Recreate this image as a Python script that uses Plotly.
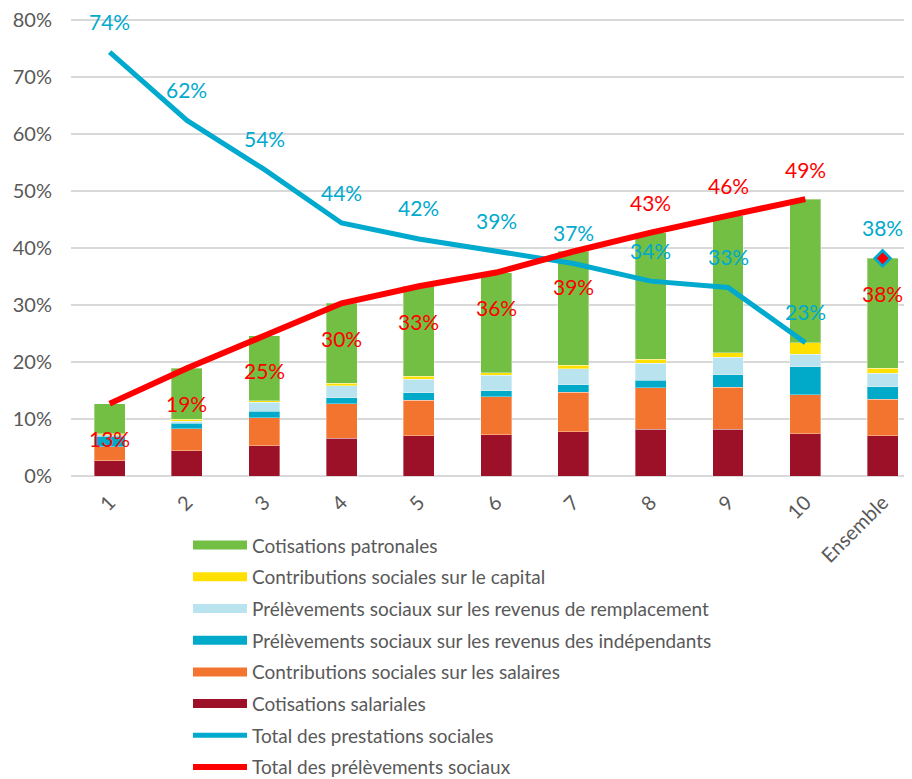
import plotly.graph_objects as go

categories = ["1", "2", "3", "4", "5", "6", "7", "8", "9", "10", "Ensemble"]

cotis_salariales = [2.7, 4.4, 5.3, 6.6, 7.1, 7.2, 7.8, 8.2, 8.2, 7.4, 7.1]
contrib_salaires = [2.4, 3.9, 4.9, 6.1, 6.2, 6.7, 6.9, 7.3, 7.4, 6.9, 6.4]
prelev_independants = [1.9, 1.0, 1.2, 1.0, 1.3, 1.1, 1.3, 1.3, 2.2, 4.9, 2.2]
prelev_remplacement = [0.2, 0.3, 1.5, 2.1, 2.4, 2.7, 2.8, 3.0, 3.0, 2.2, 2.3]
contrib_capital = [0.2, 0.4, 0.3, 0.5, 0.5, 0.4, 0.6, 0.7, 0.8, 2.0, 0.9]
cotis_patronales = [5.3, 8.9, 11.4, 14.0, 15.8, 17.6, 20.0, 22.2, 24.1, 25.2, 19.3]

total_prestations = [74.4, 62.4, 53.8, 44.4, 41.6, 39.4, 37.3, 34.2, 33.1, 23.4, 38.2]
total_prelevements = [12.7, 18.9, 24.6, 30.3, 33.3, 35.7, 39.4, 42.7, 45.7, 48.6, 38.2]

y_ticks = [0, 10, 20, 30, 40, 50, 60, 70, 80]
y_tick_labels = ["0%", "10%", "20%", "30%", "40%", "50%", "60%", "70%", "80%"]

FONT = "Lato"
GREY = "#595959"
C_GREEN = "#72BF44"
C_YELLOW = "#FFE000"
C_LIGHTBLUE = "#B9E3EF"
C_BLUE = "#00AAC8"
C_ORANGE = "#F3742F"
C_DARKRED = "#9C1127"
C_LINE_BLUE = "#00A9CE"
C_LINE_RED = "#FF0000"

bar_series = [
    ("Cotisations salariales", cotis_salariales, C_DARKRED),
    ("Contributions sociales sur les salaires", contrib_salaires, C_ORANGE),
    ("Prélèvements sociaux sur les revenus des indépendants", prelev_independants, C_BLUE),
    ("Prélèvements sociaux sur les revenus de remplacement", prelev_remplacement, C_LIGHTBLUE),
    ("Contributions sociales sur le capital", contrib_capital, C_YELLOW),
    ("Cotisations patronales", cotis_patronales, C_GREEN),
]

fig = go.Figure()

for name, vals, col in bar_series:
    fig.add_trace(go.Bar(
        x=categories, y=vals, name=name, marker_color=col,
        marker_line=dict(color="rgba(255,255,255,0.35)", width=1),
        showlegend=False, hoverinfo="skip",
    ))

# legend entries (wide swatches) in reference order
for i, (name, vals, col) in enumerate(reversed(bar_series)):
    fig.add_trace(go.Scatter(
        x=[None], y=[None], mode="lines", name=name,
        line=dict(color=col, width=9), legendgroup=f"g{i}", showlegend=True,
    ))

main = categories[:10]
fig.add_trace(go.Scatter(
    x=main, y=total_prestations[:10], mode="lines", name="Total des prestations sociales",
    line=dict(color=C_LINE_BLUE, width=5), legendgroup="g6",
))
fig.add_trace(go.Scatter(
    x=main, y=total_prelevements[:10], mode="lines", name="Total des prélèvements sociaux",
    line=dict(color=C_LINE_RED, width=6), legendgroup="g7",
))
fig.add_trace(go.Scatter(
    x=[categories[10]], y=[total_prestations[10]], mode="markers", showlegend=False,
    marker=dict(symbol="diamond", size=15, color=C_LINE_BLUE),
))
fig.add_trace(go.Scatter(
    x=[categories[10]], y=[total_prelevements[10]], mode="markers", showlegend=False,
    marker=dict(symbol="diamond", size=9, color=C_LINE_RED),
))

# data labels (x given as category index on the category axis)
blue_shift = [31] * 11
red_shift = [-35, -35, -35, -35, -35, -35, -35, 30, 30, 30, -35]
annotations = []
for i, (v, s) in enumerate(zip(total_prestations, blue_shift)):
    annotations.append(dict(x=i, y=v, xref="x", yref="y", text=f"{round(v)}%",
                            showarrow=False, yshift=s,
                            font=dict(family=FONT, size=21, color=C_LINE_BLUE)))
for i, (v, s) in enumerate(zip(total_prelevements, red_shift)):
    annotations.append(dict(x=i, y=v, xref="x", yref="y", text=f"{round(v)}%",
                            showarrow=False, yshift=s,
                            font=dict(family=FONT, size=21, color=C_LINE_RED)))

fig.update_layout(
    width=912, height=779,
    margin=dict(l=63, r=8, t=11, b=311, autoexpand=False),
    plot_bgcolor="white", paper_bgcolor="white",
    barmode="stack", bargap=0.6,
    font=dict(family=FONT, color=GREY, size=19),
    annotations=annotations,
    legend=dict(
        x=(188 - 71) / 841, xanchor="left", y=-0.11, yanchor="top",
        traceorder="grouped", tracegroupgap=4, itemwidth=54,
        font=dict(family=FONT, size=19, color=GREY),
        bgcolor="rgba(0,0,0,0)",
    ),
    xaxis=dict(
        type="category", categoryorder="array", categoryarray=categories,
        range=[-0.5, 10.38], tickangle=-45, showgrid=False, showline=False,
        ticks="", ticklabelstandoff=10,
        tickfont=dict(family=FONT, size=20, color=GREY),
    ),
    yaxis=dict(
        range=[0, 80.2], tickvals=y_ticks, ticktext=y_tick_labels, showgrid=True,
        gridcolor="#D9D9D9", gridwidth=2, zeroline=True, zerolinecolor="#D9D9D9",
        zerolinewidth=2, showline=False, ticks="", ticklabelstandoff=18,
        ticklabeloverflow="allow",
        tickfont=dict(family=FONT, size=20, color=GREY),
    ),
    hovermode=False,
)

fig.write_html("out.html")
